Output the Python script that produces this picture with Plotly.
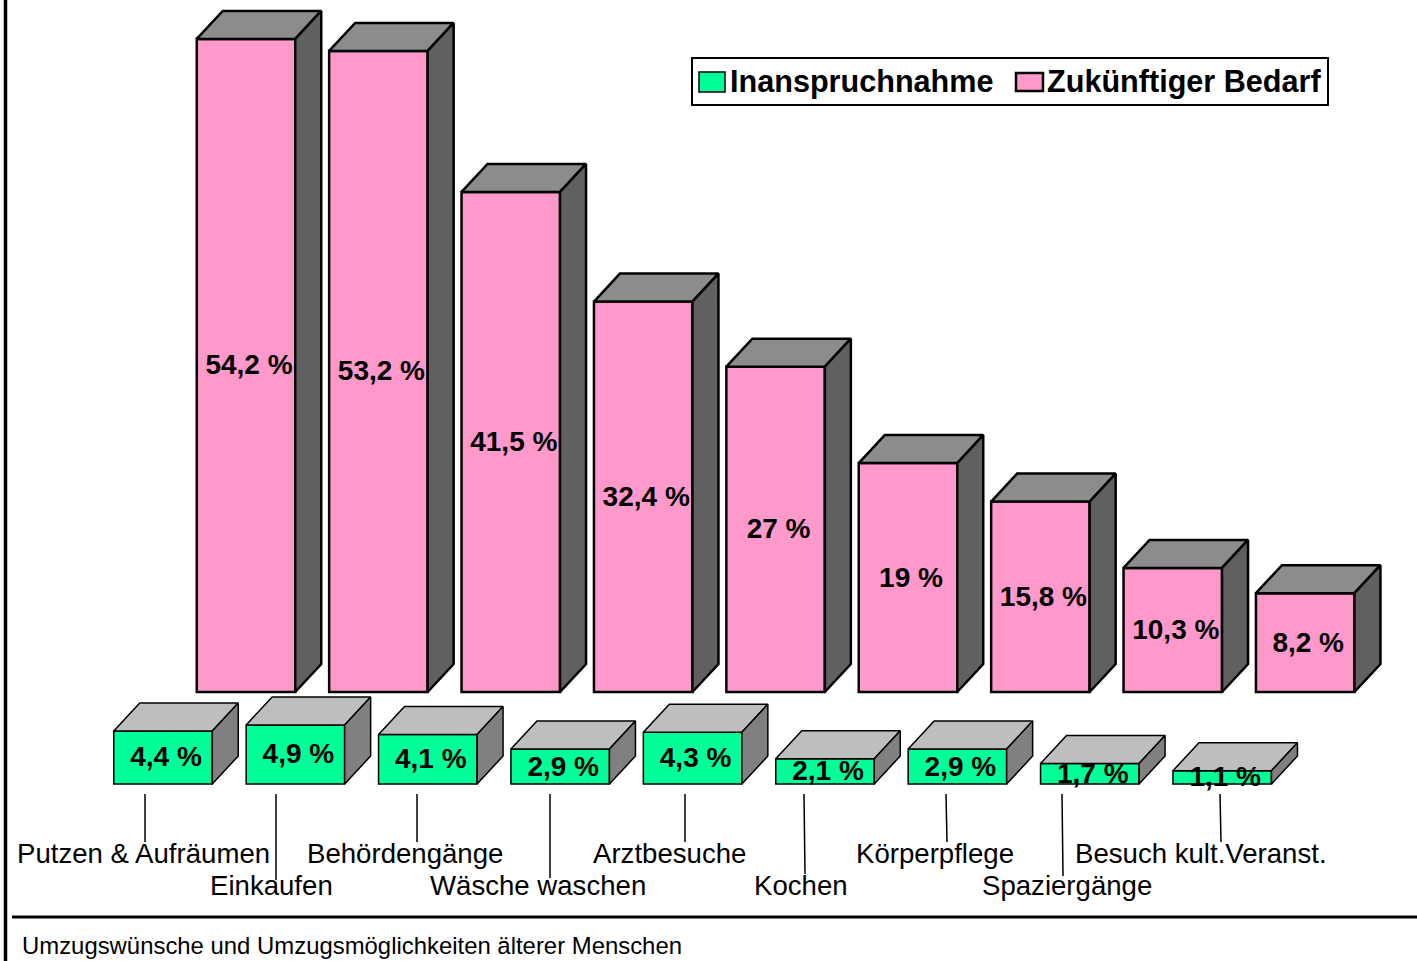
import plotly.graph_objects as go

# ---- data ----
categories = ["Putzen & Aufräumen", "Einkaufen", "Behördengänge", "Wäsche waschen", "Arztbesuche",
              "Kochen", "Körperpflege", "Spaziergänge", "Besuch kult.Veranst."]
inanspruchnahme = [4.4, 4.9, 4.1, 2.9, 4.3, 2.1, 2.9, 1.7, 1.1]
zukuenftig = [54.2, 53.2, 41.5, 32.4, 27, 19, 15.8, 10.3, 8.2]
labels_green = ["4,4 %", "4,9 %", "4,1 %", "2,9 %", "4,3 %", "2,1 %", "2,9 %", "1,7 %", "1,1 %"]
labels_pink = ["54,2 %", "53,2 %", "41,5 %", "32,4 %", "27 %", "19 %", "15,8 %", "10,3 %", "8,2 %"]
series_names = ["Inanspruchnahme", "Zukünftiger Bedarf"]
footer = "Umzugswünsche und Umzugsmöglichkeiten älterer Menschen"

# ---- layout constants (pixels on the 1417x961 page) ----
W, H = 1417, 961
PX_X0, PX_DX = 246.0, 132.4      # x pixel of category 0 centre, pixels per category
PX_Y0, PX_DY = 692.0, 12.05      # y pixel of value 0, pixels per unit
GREEN_SHIFT = -83 / PX_DX
GREEN_BASE = -92 / PX_DY
BAR_W = 98.5 / PX_DX
DEPTH_X, DEPTH_Y = 26 / PX_DX, 28 / PX_DY
TEXT_DX, TEXT_DY = 3 / PX_DX, -2 / PX_DY
FONT = "Liberation Sans"
PINK, PINK_TOP, PINK_SIDE = "#FF99CC", "#8C8C8C", "#606060"
GREEN, GREEN_TOP, GREEN_SIDE = "#00FF99", "#BEBEBE", "#808080"

label_px = [143, 271, 405, 538, 669, 801, 935, 1067, 1201]
label_py = [853, 885] * 4 + [853]
leader_top = [(145, 794), (276, 794), (417, 794), (550, 794), (685, 794), (804, 794), (946, 794), (1062, 794), (1220, 794)]
leader_bot = [(145, 842), (276, 880), (417, 842), (550, 878), (685, 842), (805, 874), (947, 842), (1063, 876), (1221, 842)]


def ax(px):
    return (px - PX_X0) / PX_DX


def ay(py):
    return (PX_Y0 - py) / PX_DY


def px_x(px):
    return px / W


def px_y(py):
    return 1 - py / H


fig = go.Figure()


def add_series(name, values, base, shift, face, top, side, lw):
    xs = [i + shift for i in range(len(values))]
    fig.add_trace(go.Bar(x=xs, y=values, base=[base] * len(values), width=BAR_W, name=name,
                         marker=dict(color=face, line=dict(color="black", width=lw))))
    for x, v in zip(xs, values):
        l, r = x - BAR_W / 2, x + BAR_W / 2
        t, b = base + v, base
        fig.add_trace(go.Scatter(
            x=[l, l + DEPTH_X, r + DEPTH_X, r, l], y=[t, t + DEPTH_Y, t + DEPTH_Y, t, t],
            mode="lines", fill="toself", fillcolor=top, line=dict(color="black", width=lw),
            showlegend=False, hoverinfo="skip"))
        fig.add_trace(go.Scatter(
            x=[r, r + DEPTH_X, r + DEPTH_X, r, r], y=[t, t + DEPTH_Y, b + DEPTH_Y, b, t],
            mode="lines", fill="toself", fillcolor=side, line=dict(color="black", width=lw),
            showlegend=False, hoverinfo="skip"))


add_series(series_names[0], inanspruchnahme, GREEN_BASE, GREEN_SHIFT, GREEN, GREEN_TOP, GREEN_SIDE, 1.5)
add_series(series_names[1], zukuenftig, 0, 0, PINK, PINK_TOP, PINK_SIDE, 2.5)

# value labels in the middle of each front face
text_font = dict(family=FONT, size=28, color="black", weight="bold")
fig.add_trace(go.Scatter(
    x=[i + GREEN_SHIFT + TEXT_DX for i in range(9)],
    y=[GREEN_BASE + v / 2 + TEXT_DY for v in inanspruchnahme],
    text=labels_green, mode="text", textposition="middle center", textfont=text_font,
    showlegend=False, hoverinfo="skip"))
fig.add_trace(go.Scatter(
    x=[i + TEXT_DX for i in range(9)],
    y=[v / 2 + TEXT_DY for v in zukuenftig],
    text=labels_pink, mode="text", textposition="middle center", textfont=text_font,
    showlegend=False, hoverinfo="skip"))

# leader lines
for (x0, y0), (x1, y1) in zip(leader_top, leader_bot):
    fig.add_trace(go.Scatter(x=[ax(x0), ax(x1)], y=[ay(y0), ay(y1)], mode="lines",
                             line=dict(color="black", width=1.5), showlegend=False, hoverinfo="skip"))

# category labels
for c, px, py in zip(categories, label_px, label_py):
    fig.add_annotation(x=ax(px), y=ay(py), text=c, showarrow=False, xanchor="center", yanchor="middle",
                       font=dict(family=FONT, size=27.6, color="black"))

fig.add_annotation(x=px_x(22), y=px_y(945.5), xref="paper", yref="paper", text=footer, showarrow=False,
                   xanchor="left", yanchor="middle", xshift=-2, font=dict(family=FONT, size=23.9, color="black"))

# frame lines
fig.add_shape(type="line", xref="paper", yref="paper", x0=px_x(5.5), x1=px_x(5.5), y0=0, y1=1,
              line=dict(color="black", width=3.5))
fig.add_shape(type="line", xref="paper", yref="paper", x0=px_x(12), x1=1, y0=px_y(917), y1=px_y(917),
              line=dict(color="black", width=3))

# legend box with swatches and text
fig.add_shape(type="rect", xref="paper", yref="paper", x0=px_x(692), x1=px_x(1328), y0=px_y(58), y1=px_y(105),
              fillcolor="white", line=dict(color="black", width=2))
legend_entries = [(699, 725, 72, 92, GREEN, 1.5, 731), (1016, 1043, 73, 91, PINK, 2.5, 1048)]
for name, (sx0, sx1, sy0, sy1, col, lw, tx) in zip(series_names, legend_entries):
    fig.add_shape(type="rect", xref="paper", yref="paper", x0=px_x(sx0), x1=px_x(sx1), y0=px_y(sy0), y1=px_y(sy1),
                  fillcolor=col, line=dict(color="black", width=lw))
    fig.add_annotation(x=px_x(tx), y=px_y(81), xref="paper", yref="paper", text=name, showarrow=False,
                       xanchor="left", yanchor="middle", xshift=-3,
                       font=dict(family=FONT, size=30.6, color="black", weight="bold"))

fig.update_layout(
    width=W, height=H, margin=dict(l=0, r=0, t=0, b=0), autosize=False,
    paper_bgcolor="white", plot_bgcolor="white", barmode="overlay",
    xaxis=dict(range=[ax(0), ax(W)], visible=False, fixedrange=True),
    yaxis=dict(range=[ay(H), ay(0)], visible=False, fixedrange=True),
    showlegend=False,
)

fig.write_html("out.html", config={"displayModeBar": False},
               post_script="document.body.style.margin='0';document.body.style.overflow='hidden';")
